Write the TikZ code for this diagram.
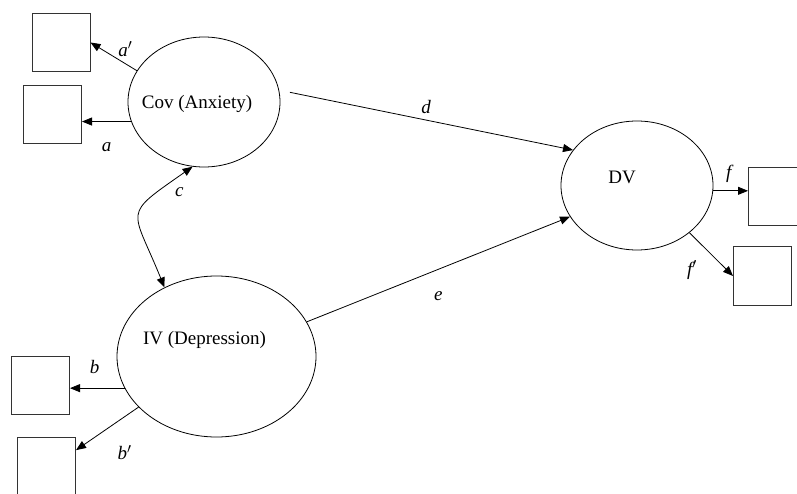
\documentclass[tikz,border=0pt]{standalone}
\usepackage{fontspec}
\setmainfont{Liberation Serif}
\usetikzlibrary{arrows.meta,shapes.geometric,positioning}

\begin{document}
\begin{tikzpicture}[x=1pt,y=-1pt,->,>={Triangle[length=10pt,width=8pt]},line width=0.8pt,
    font=\fontsize{19}{22}\selectfont,
    latent/.style={ellipse,draw,-,inner sep=0pt},
    obs/.style={rectangle,draw=black!80,line width=1pt,-,minimum size=58pt,inner sep=0pt},
    lbl/.style={inner sep=0pt,font=\fontsize{19}{22}\selectfont\itshape}]
    \useasboundingbox (0,0) rectangle (797,494);
    \clip (0,0) rectangle (797,494);

    \node[latent,minimum width=152pt,minimum height=130pt,
          label={[xshift=-7pt,yshift=-2pt]center:Cov (Anxiety)}] (cov) at (204,102)   {};
    \node[latent,minimum width=199pt,minimum height=161pt,
          label={[xshift=-12pt,yshift=17pt]center:IV (Depression)}] (ivl) at (216.5,356.5) {};
    \node[latent,minimum width=152pt,minimum height=129pt,
          label={[xshift=-15pt,yshift=8pt]center:DV}] (dv) at (637,185.5) {};

    \node[obs] (apbox) at (61,42.5)   {};
    \node[obs] (abox)  at (52.5,114.5) {};
    \node[obs] (bbox)  at (40.5,385)  {};
    \node[obs] (bpbox) at (46.5,466.5) {};
    \node[obs] (fbox)  at (777.5,197) {};
    \node[obs] (fpbox) at (762.5,276) {};

    \draw (cov.155) -- node[lbl,pos=.28,above right=6pt and -6pt] {a$'$} (apbox.east);
    \draw (cov.195) -- node[lbl,pos=.5,below=21pt] {a} (cov.195 -| abox.east);
    \draw[<->] (cov.260) to[out=215,in=112,looseness=1.8] node[lbl,pos=.22,right=18pt] {c} (ivl.127);
    \draw[shorten <=11pt] (cov.9) -- node[lbl,pos=.5,above=6pt] {d} (dv.151);
    \draw (ivl.21) -- node[lbl,pos=.5,below=22pt] {e} (dv.205);
    \draw (ivl.199) -- node[lbl,pos=.55,above=14pt] {b} (ivl.199 -| bbox.east);
    \draw (ivl.213) -- node[lbl,pos=.5,below right=16pt and 10pt] {b$'$} (bpbox.29);
    \draw (dv.-4) -- node[lbl,pos=.45,above=8pt] {f} (dv.-4 -| fbox.west);
    \draw (dv.-42) -- node[lbl,pos=.5,below left=6pt and 14pt] {f$'$} (fpbox.west);
\end{tikzpicture}
\end{document}
